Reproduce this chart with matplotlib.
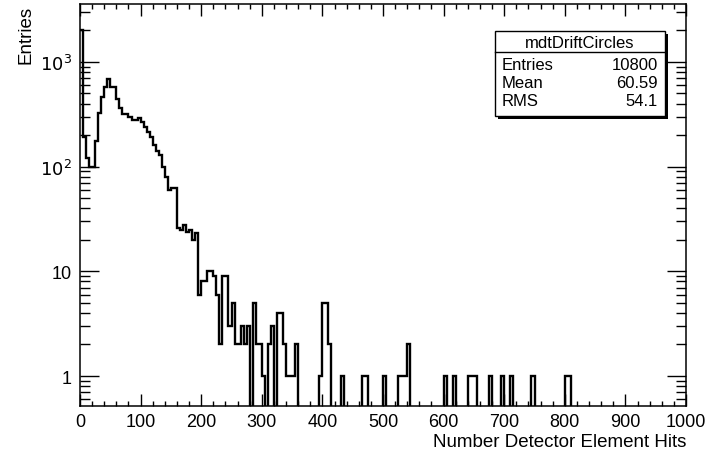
import numpy as np
import matplotlib
matplotlib.use("Agg")
import matplotlib.pyplot as plt
from matplotlib.ticker import FixedLocator, LogLocator, NullFormatter, FixedFormatter
from matplotlib.patches import Rectangle

plt.rcParams['font.family'] = ['Liberation Sans', 'DejaVu Sans']

# ---- data ----
bin_width = 5
x_min, x_max = 0, 1000
head_counts = [2000, 190, 120, 100, 100, 175, 325, 460, 575, 690,
               580, 580, 440, 365, 315, 315, 300, 280, 280, 290,
               270, 240, 215, 190, 160, 140, 130, 100, 80, 60,
               62, 62, 26, 25, 28, 24, 25, 20, 23, 6,
               8, 8, 10, 10, 9, 6, 2, 9, 9, 3,
               5, 2, 2, 3, 2, 3, 0, 5, 2, 2,
               1, 0, 2, 3, 0, 4, 4, 2, 1, 1,
               1, 2]
tail_bins = [79, 80, 81, 82, 86, 93, 94, 100, 105, 106, 107, 108,
             120, 123, 128, 129, 130, 135, 139, 142, 149, 160, 161]
tail_counts = [1, 5, 5, 2, 1, 1, 1, 1, 1, 1, 1, 2,
               1, 1, 1, 1, 1, 1, 1, 1, 1, 1, 1]

hist_name = "mdtDriftCircles"
stat_labels = ["Entries", "Mean", "RMS"]
stat_values = ["10800", "60.59", "54.1"]
x_title = "Number Detector Element Hits"
y_title = "Entries"
x_tick_values = [0, 100, 200, 300, 400, 500, 600, 700, 800, 900, 1000]
y_tick_values = [1, 10, 100, 1000]
y_tick_labels = ["1", "10", r"$10^{2}$", r"$10^{3}$"]

# ---- build histogram ----
n_bins = (x_max - x_min) // bin_width
edges = np.arange(x_min, x_max + bin_width, bin_width)
counts = np.zeros(n_bins)
counts[:len(head_counts)] = head_counts
counts[tail_bins] = tail_counts

W, H = 724, 456
fig = plt.figure(figsize=(W / 100, H / 100), dpi=100)
ax = fig.add_axes([80 / W, 1 - 407 / H, (686 - 80) / W, (407 - 5) / H])
ax.set_yscale('log', nonpositive='clip')
ax.stairs(counts, edges, baseline=None, color='black', linewidth=1.7)
ax.set_xlim(x_min, x_max)
ax.set_ylim(0.517, 3580)

# ticks
ax.xaxis.set_major_locator(FixedLocator(x_tick_values))
ax.xaxis.set_minor_locator(FixedLocator(np.arange(0, 1001, 20)))
ax.set_xticklabels([str(v) for v in x_tick_values])
ax.yaxis.set_major_locator(FixedLocator(y_tick_values))
ax.yaxis.set_major_formatter(FixedFormatter(y_tick_labels))
ax.yaxis.set_minor_locator(LogLocator(base=10, subs=np.arange(2, 10), numticks=20))
ax.yaxis.set_minor_formatter(NullFormatter())
ax.tick_params(axis='both', which='both', direction='in', top=True, right=True,
               width=1.0, colors='black', labelsize=13)
ax.tick_params(axis='x', which='major', length=8.6, pad=5)
ax.tick_params(axis='x', which='minor', length=3.6)
ax.tick_params(axis='y', which='major', length=14, pad=6)
ax.tick_params(axis='y', which='minor', length=7)
for s in ax.spines.values():
    s.set_linewidth(1.1)
    s.set_color('black')

# axis titles (ROOT style: aligned at the far end)
fig.text(686 / W, 1 - 443 / H, x_title, ha='right', va='center', fontsize=13.5)
fig.text(26 / W, 1 - 6 / H, y_title, ha='center', va='top', rotation=90, fontsize=13.5)

# stats box
bx0, bx1, by0, by1 = 495, 665, 32, 117
sh = 3
fig.patches.append(Rectangle(((bx0 + sh) / W, 1 - (by1 + sh) / H), (bx1 - bx0) / W, (by1 - by0) / H,
                             transform=fig.transFigure, facecolor='black', edgecolor='black', lw=0))
fig.patches.append(Rectangle((bx0 / W, 1 - by1 / H), (bx1 - bx0) / W, (by1 - by0) / H,
                             transform=fig.transFigure, facecolor='white', edgecolor='black', lw=1.0))
fig.add_artist(plt.Line2D([bx0 / W, bx1 / W], [1 - 53 / H, 1 - 53 / H], transform=fig.transFigure,
                          color='black', lw=1.0))
fig.text((bx0 + bx1) / 2 / W, 1 - 43 / H, hist_name, ha='center', va='center', fontsize=12)
row_y = [65, 84, 102]
for lab, val, yy in zip(stat_labels, stat_values, row_y):
    fig.text(502 / W, 1 - yy / H, lab, ha='left', va='center', fontsize=12)
    fig.text(658 / W, 1 - yy / H, val, ha='right', va='center', fontsize=12)

fig.savefig("out.png", dpi=100)
